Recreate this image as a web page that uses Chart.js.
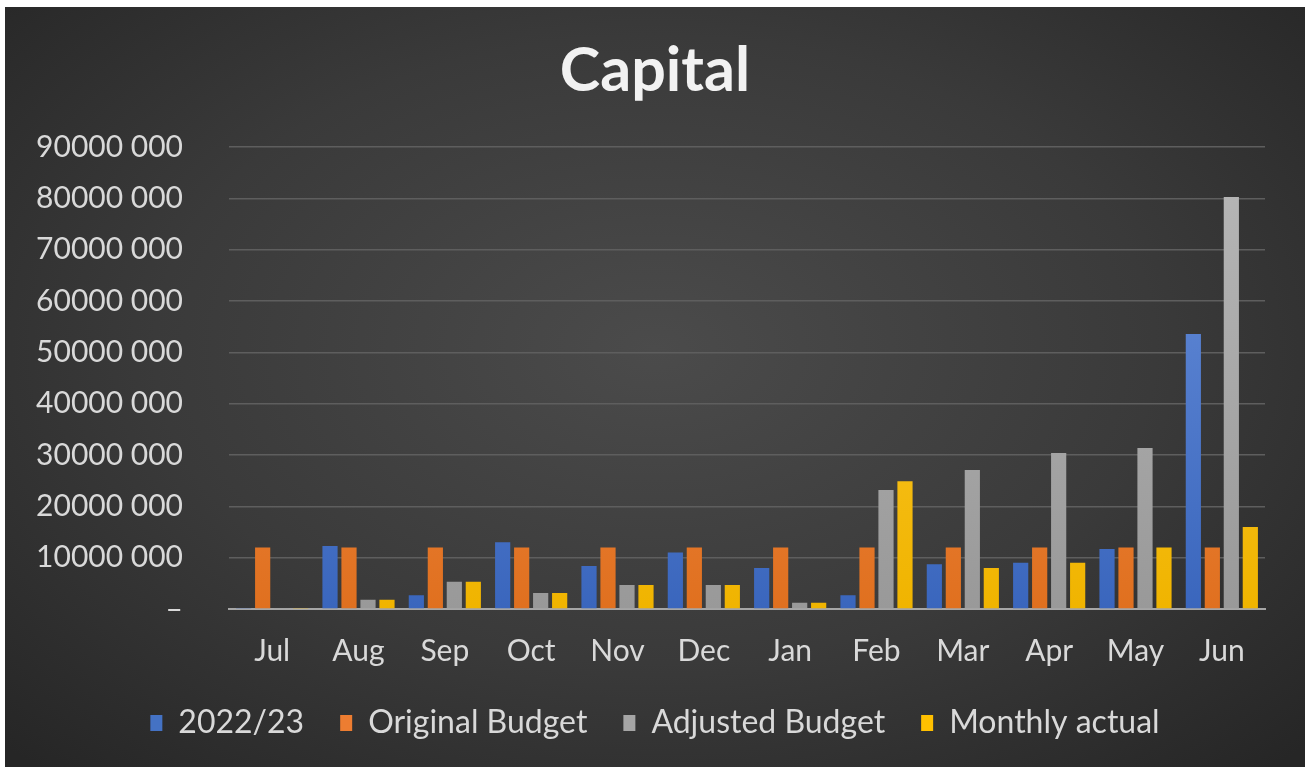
<!DOCTYPE html>
<html>
<head>
<meta charset="utf-8">
<script src="https://cdn.jsdelivr.net/npm/chart.js@4.4.0/dist/chart.umd.min.js"></script>
<style>
  html, body { margin: 0; padding: 0; background: #ffffff; width: 1307px; height: 767px; overflow: hidden; }
  #wrap {
    position: absolute; left: 5px; top: 7px; width: 1300px; height: 760px;
    background: radial-gradient(ellipse 70% 75% at 50% 45%, #4b4b4b 0%, #3a3a3a 55%, #262626 100%);
  }
  canvas { display: block; }
</style>
</head>
<body>
<div id="wrap"><canvas id="c" width="1300" height="760"></canvas></div>
<script>
const categories = ["Jul","Aug","Sep","Oct","Nov","Dec","Jan","Feb","Mar","Apr","May","Jun"];
const seriesNames = ["2022/23","Original Budget","Adjusted Budget","Monthly actual"];
const prevYear      = [200000, 12300000, 2700000, 13000000, 8400000, 11000000, 8000000, 2700000, 8700000, 9000000, 11700000, 53600000];
const originalBudget= [12000000,12000000,12000000,12000000,12000000,12000000,12000000,12000000,12000000,12000000,12000000,12000000];
const adjustedBudget= [200000, 1800000, 5300000, 3100000, 4700000, 4700000, 1200000, 23200000, 27100000, 30400000, 31400000, 80300000];
const monthlyActual = [200000, 1800000, 5300000, 3100000, 4700000, 4700000, 1200000, 24900000, 8000000, 9000000, 12000000, 16000000];
const yTicks = [0,10000000,20000000,30000000,40000000,50000000,60000000,70000000,80000000,90000000];

const colors = [
  ["#6b92dc", "#3a66bd", "#4472C4"],
  ["#f59455", "#e0701f", "#ED7D31"],
  ["#b8b8b8", "#999999", "#A5A5A5"],
  ["#ffcd3a", "#f0b400", "#FFC000"]
];

function grad(i) {
  return function(ctx) {
    const chart = ctx.chart;
    const a = chart.chartArea;
    if (!a) return colors[i][2];
    const g = chart.ctx.createLinearGradient(0, a.top, 0, a.bottom);
    g.addColorStop(0, colors[i][0]);
    g.addColorStop(1, colors[i][1]);
    return g;
  };
}

function fmt(v) {
  if (v === 0) return "–";
  return Math.floor(v / 1000) + " " + String(v % 1000).padStart(3, "0");
}

const seriesData = [prevYear, originalBudget, adjustedBudget, monthlyActual];
const datasets = seriesData.map((d, i) => ({
  label: seriesNames[i],
  data: d,
  backgroundColor: grad(i),
  borderWidth: 0,
  categoryPercentage: 0.88,
  barPercentage: 0.8
}));

const TXT = "#d9d9d9";
const FONT = "Lato, 'Open Sans', sans-serif";

new Chart(document.getElementById("c"), {
  type: "bar",
  data: { labels: categories, datasets: datasets },
  options: {
    responsive: false,
    animation: false,
    layout: { padding: { left: 0, right: 0, top: 0, bottom: 18 } },
    plugins: {
      title: {
        display: true,
        text: "Capital",
        color: "#f2f2f2",
        font: { family: FONT, size: 61, weight: "bold" },
        padding: { top: 28, bottom: 39 }
      },
      legend: {
        display: true,
        position: "bottom",
        labels: {
          color: TXT,
          font: { family: FONT, size: 32 },
          boxWidth: 12,
          boxHeight: 16,
          padding: 36,
          generateLabels: function(chart) {
            return seriesNames.map((n, i) => ({
              text: n, fillStyle: colors[i][2], strokeStyle: colors[i][2], lineWidth: 0,
              datasetIndex: i, hidden: false, fontColor: TXT
            }));
          }
        }
      },
      tooltip: { enabled: false }
    },
    scales: {
      x: {
        grid: { display: false, drawTicks: false },
        border: { display: true, color: "#a6a6a6", width: 2 },
        ticks: { color: TXT, font: { family: FONT, size: 30 }, padding: 24 },
        afterFit: function(s) { s.height = 62; }
      },
      y: {
        min: 0, max: 90000000,
        afterBuildTicks: function(s) { s.ticks = yTicks.map(v => ({ value: v })); },
        grid: { color: "#5e5e5e", lineWidth: 1.5, drawTicks: false },
        border: { display: false },
        ticks: { color: TXT, font: { family: FONT, size: 30 }, padding: 46, callback: v => fmt(v) },
        afterFit: function(s) { s.width = 224; }
      },
      yRightSpace: {
        type: "linear",
        position: "right",
        display: true,
        grid: { display: false, drawTicks: false },
        border: { display: false },
        ticks: { display: false },
        afterFit: function(s) { s.width = 40; }
      }
    }
  }
});
</script>
</body>
</html>
